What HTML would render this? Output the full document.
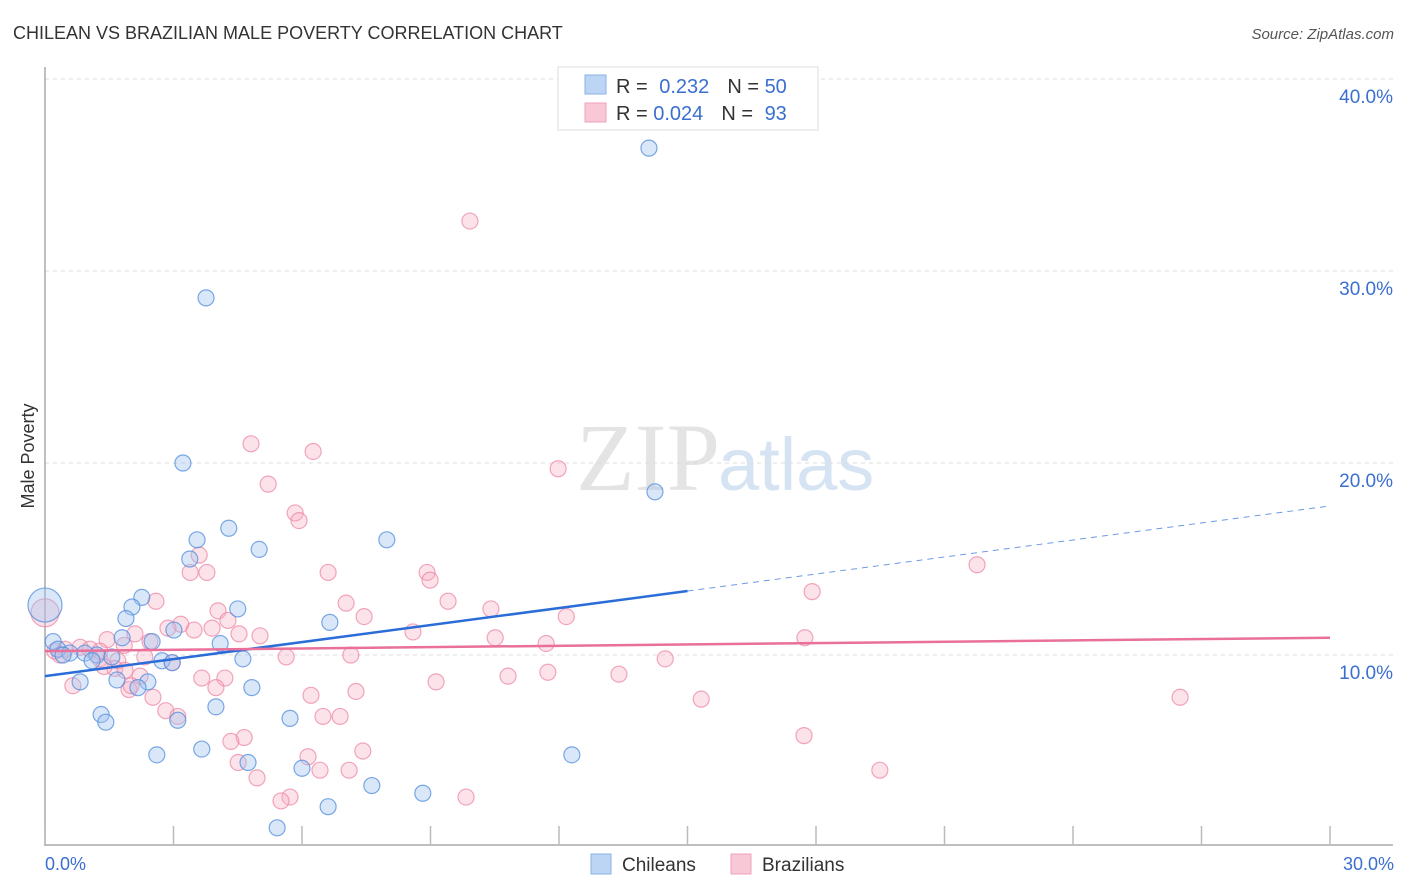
<!DOCTYPE html>
<html><head><meta charset="utf-8"><style>
body{margin:0;background:#fff;font-family:"Liberation Sans",sans-serif}
svg{display:block}
</style></head><body>
<svg id="chart" width="1406" height="892" xmlns="http://www.w3.org/2000/svg">
<text x="13" y="39" font-size="18" fill="#333">CHILEAN VS BRAZILIAN MALE POVERTY CORRELATION CHART</text>
<text x="1394" y="39" font-size="15" fill="#555" font-style="italic" text-anchor="end">Source: ZipAtlas.com</text>
<text x="720" y="490" font-size="96" fill="#e4e4e4" text-anchor="end" font-family="Liberation Serif">ZIP</text>
<text x="718" y="490" font-size="74" fill="#d5e3f3">atlas</text>
<g id="grid"></g>
<line x1="45" y1="67" x2="45" y2="846" stroke="#aaa" stroke-width="1.5"/>
<line x1="45" y1="845" x2="1393" y2="845" stroke="#aaa" stroke-width="1.5"/>
<g id="xticks"></g>
<text x="45" y="870" font-size="18" fill="#3a6fd0">0.0%</text>
<text x="1394" y="870" font-size="18" fill="#3a6fd0" text-anchor="end">30.0%</text>
<text transform="translate(34,456) rotate(-90)" font-size="18" fill="#333" text-anchor="middle">Male Poverty</text>
<g id="points"></g>
<g id="lines"></g>
<g>
<rect x="558" y="67" width="260" height="63" fill="#fff" stroke="#ddd"/>
<rect x="585" y="75" width="21" height="19" fill="#bcd5f5" stroke="#8ab0e6"/>
<rect x="585" y="103" width="21" height="19" fill="#f9c8d6" stroke="#f0a2b8"/>
<text x="616" y="93" font-size="20" fill="#333">R = <tspan fill="#3a6fd0" dx="6">0.232</tspan><tspan dx="18" fill="#333">N = </tspan><tspan fill="#3a6fd0">50</tspan></text>
<text x="616" y="120" font-size="20" fill="#333">R = <tspan fill="#3a6fd0">0.024</tspan><tspan dx="18" fill="#333">N = </tspan><tspan fill="#3a6fd0" dx="6">93</tspan></text>
</g>
<g>
<rect x="591" y="854" width="20" height="20" fill="#bcd5f5" stroke="#8ab0e6"/>
<text x="622" y="871" font-size="19" fill="#333">Chileans</text>
<rect x="731" y="854" width="20" height="20" fill="#f9c8d6" stroke="#f0a2b8"/>
<text x="762" y="871" font-size="19" fill="#333">Brazilians</text>
</g>
</svg>
<script>
const yTicks=[10,20,30,40];
const yTickLabels=["10.0%","20.0%","30.0%","40.0%"];
const xTickVals=[0,3,6,9,12,15,18,21,24,27,30];
const chileX=[14.1,3.76,3.22,14.24,4.29,7.98,3.55,5.0,3.38,2.26,2.03,4.5,1.89,6.65,3.01,1.8,2.5,4.09,0.19,0.3,0.58,0.93,1.21,0.42,1.56,1.1,2.73,2.97,4.62,1.68,2.4,0.82,2.17,4.83,1.31,3.99,3.1,5.72,1.42,2.61,3.66,4.74,6.0,12.3,7.63,8.82,6.61,5.42,0];
const chileY=[36.4,28.6,20.0,18.5,16.6,16.0,16.0,15.5,15.0,13.0,12.5,12.4,11.9,11.7,11.3,10.9,10.7,10.6,10.7,10.3,10.1,10.1,10.0,10.0,9.9,9.7,9.7,9.6,9.8,8.7,8.6,8.6,8.3,8.3,6.9,7.3,6.6,6.7,6.5,4.8,5.1,4.4,4.1,4.8,3.2,2.8,2.1,1.0,12.6];
const chileR=[8,8,8,8,8,8,8,8,8,8,8,8,8,8,8,8,8,8,8,8,8,8,8,8,8,8,8,8,8,8,8,8,8,8,8,8,8,8,8,8,8,8,8,8,8,8,8,8,17];
const brazX=[9.92,4.81,6.26,11.98,5.21,5.84,5.93,21.76,6.61,8.92,3.39,3.78,3.6,8.99,17.91,2.59,7.03,9.41,4.04,7.45,10.41,12.17,4.27,3.17,2.87,3.48,3.9,4.53,5.02,8.59,10.51,17.74,11.7,2.1,1.45,2.45,1.85,0.47,0.82,1.05,0.23,0.35,1.28,1.7,2.33,2.97,5.63,7.14,14.48,1.63,1.87,1.38,2.22,3.66,4.2,9.13,10.81,11.74,13.4,0.65,1.96,2.01,3.99,6.21,7.26,2.52,2.82,3.1,15.32,26.5,6.89,6.49,17.72,4.65,4.34,7.42,6.14,4.51,4.95,6.42,7.1,19.49,5.72,5.51,9.83,0,1.28];
const brazY=[32.6,21.0,20.6,19.7,18.9,17.4,17.0,14.7,14.3,14.3,14.3,14.3,15.2,13.9,13.3,12.8,12.7,12.8,12.3,12.0,12.4,12.0,11.8,11.6,11.4,11.3,11.4,11.1,11.0,11.2,10.9,10.9,10.6,11.1,10.8,10.7,10.5,10.3,10.4,10.3,10.2,10.0,9.8,9.7,9.9,9.6,9.9,10.0,9.8,9.3,9.2,9.4,8.9,8.8,8.8,8.6,8.9,9.1,9.0,8.4,8.2,8.4,8.3,7.9,8.1,7.8,7.1,6.8,7.7,7.8,6.8,6.8,5.8,5.7,5.5,5.0,4.7,4.4,3.6,4.0,4.0,4.0,2.6,2.4,2.6,12.2,10.2];
const brazR=brazX.map((v,i)=>i===85?14:8);
const chileTrend=[8.9,15.4];const chileTrendEnd=22.0;const brazTrend=[10.2,10.9];
const X=v=>45+v*(1285/30), Y=v=>847-v*19.2;
const NS="http://www.w3.org/2000/svg";
function mk(t,a,p){const e=document.createElementNS(NS,t);for(const k in a)e.setAttribute(k,a[k]);p.appendChild(e);return e;}
const grid=document.getElementById('grid');
yTicks.forEach((v,i)=>{
const l=mk('line',{x1:45,x2:1393,y1:Y(v),y2:Y(v),stroke:'#ddd','stroke-dasharray':'4,4'},grid);


const t=mk('text',{x:1393,y:Y(v)+24,'font-size':19,fill:'#3a6fd0','text-anchor':'end'},grid);
t.textContent=yTickLabels[i];


});
const xt=document.getElementById('xticks');
xTickVals.forEach(v=>{
const l=mk('line',{x1:X(v),x2:X(v),y1:826,y2:845,stroke:'#bbb','stroke-width':1.5},xt);


});
const pts=document.getElementById('points');
brazX.forEach((v,i)=>{
const c=mk('circle',{cx:X(v),cy:Y(brazY[i]),r:brazR[i],fill:'rgba(246,175,196,0.35)',stroke:'rgba(236,130,160,0.7)','stroke-width':1.2},pts);


});
chileX.forEach((v,i)=>{
const c=mk('circle',{cx:X(v),cy:Y(chileY[i]),r:chileR[i],fill:'rgba(160,195,240,0.4)',stroke:'rgba(80,140,220,0.75)','stroke-width':1.2},pts);


});
const ln=document.getElementById('lines');
const slope=(chileTrend[1]-chileTrend[0])/chileTrendEnd;
let a=mk('line',{x1:X(0),y1:Y(chileTrend[0]),x2:X(15),y2:Y(chileTrend[0]+slope*15),stroke:'#2a6dd9','stroke-width':2.5},ln);


a=mk('line',{x1:X(15),y1:Y(chileTrend[0]+slope*15),x2:X(30),y2:Y(chileTrend[0]+slope*30),stroke:'#6d9be0','stroke-width':1,'stroke-dasharray':'6,5'},ln);


a=mk('line',{x1:X(0),y1:Y(brazTrend[0]),x2:X(30),y2:Y(brazTrend[1]),stroke:'#e8709a','stroke-width':2.5},ln);


</script>
</body></html>
